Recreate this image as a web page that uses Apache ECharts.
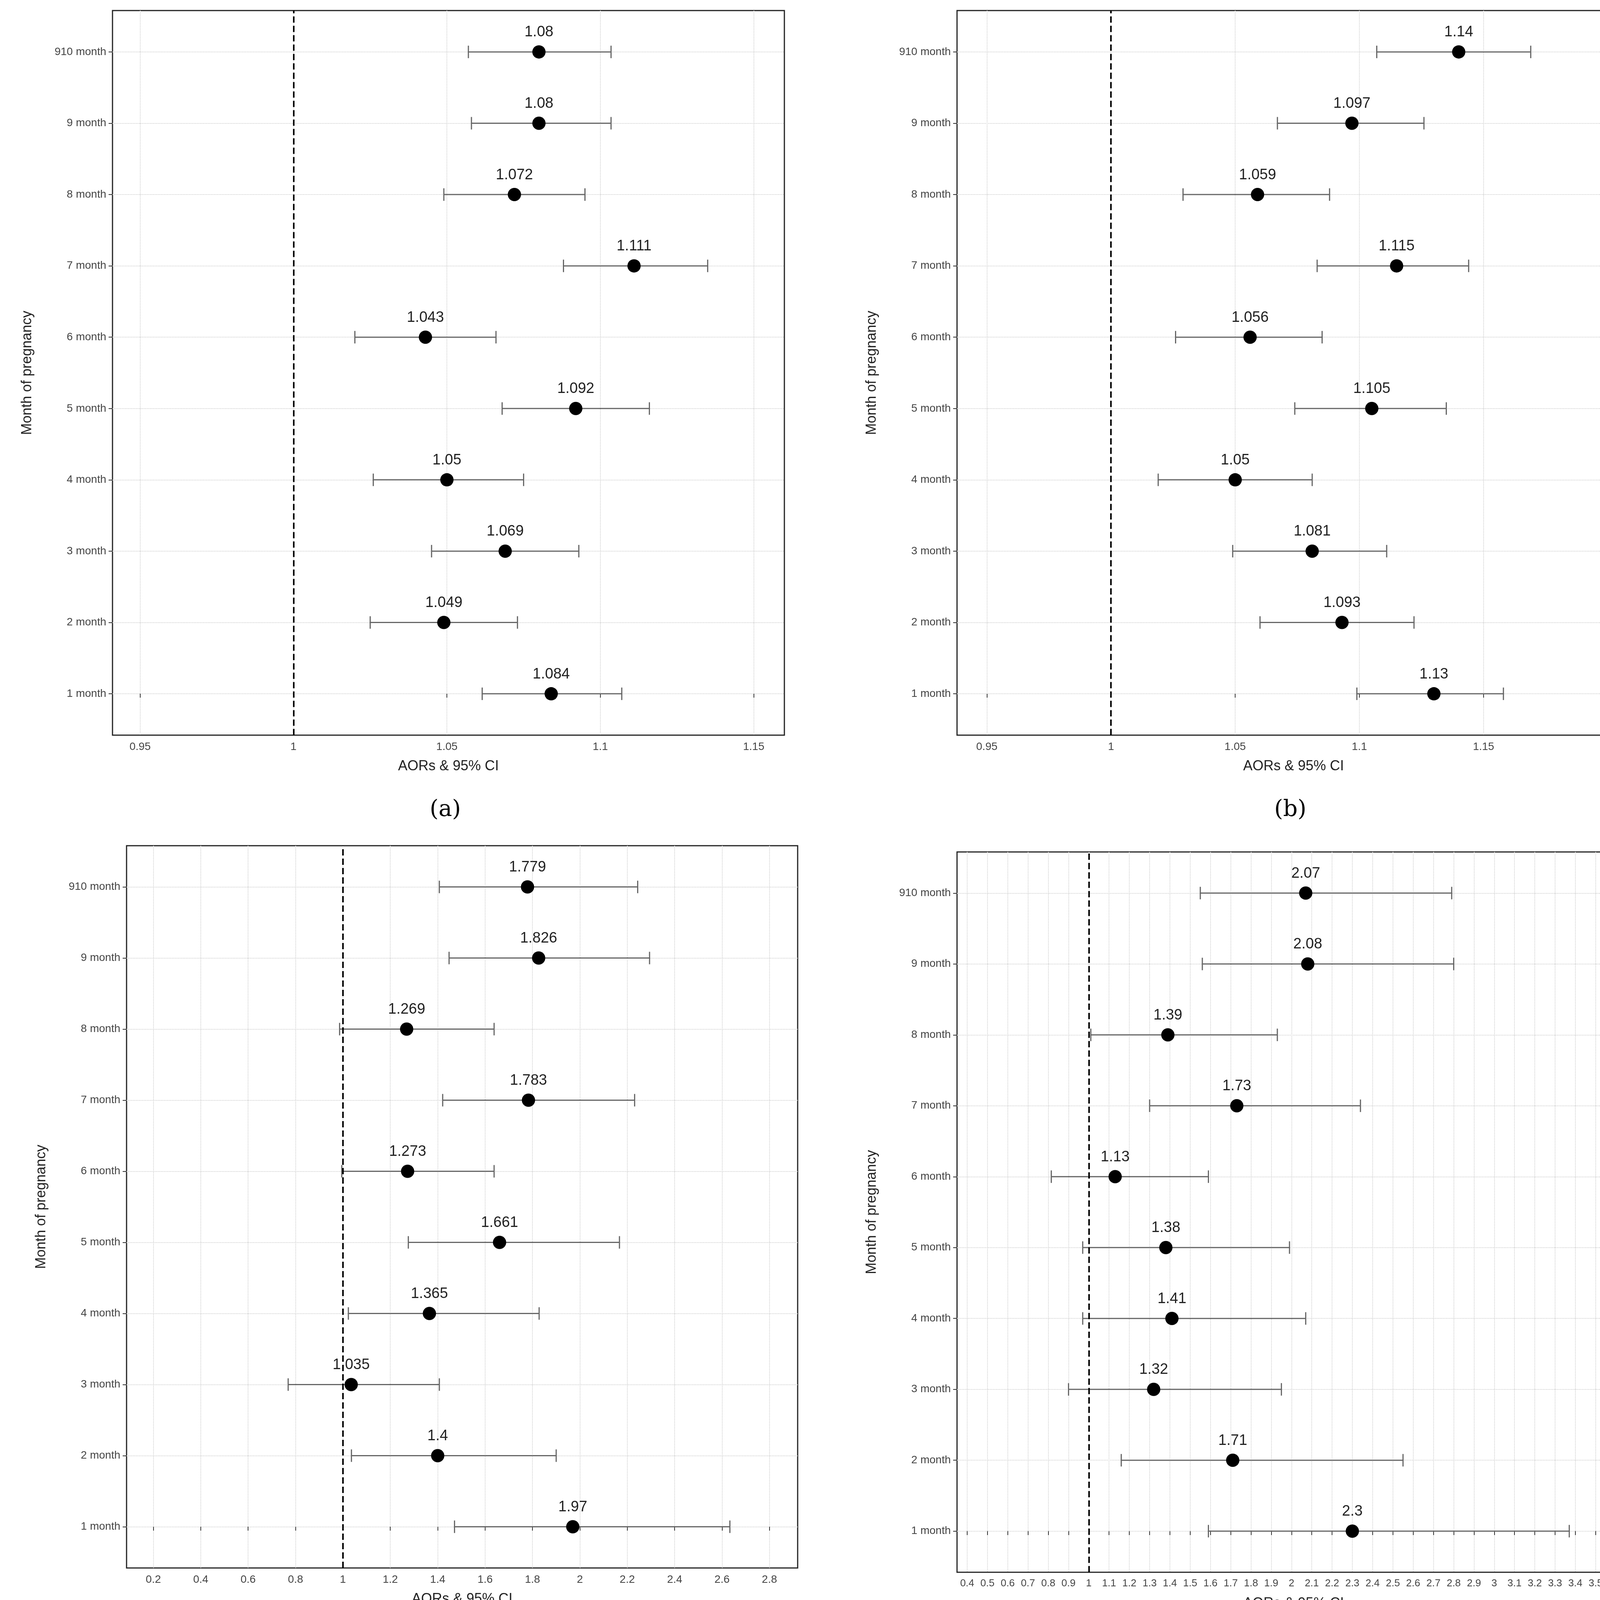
<!DOCTYPE html>
<html><head><meta charset="utf-8">
<script src="https://cdn.jsdelivr.net/npm/echarts@6/dist/echarts.min.js"></script>
<style>html,body{margin:0;background:#fff}#main{width:4198px;height:4303px}</style>
</head><body><div id="main"></div>
<script>
var months = ['1 month','2 month','3 month','4 month','5 month','6 month','7 month','8 month','9 month','910 month'];
// panel a
var estA = [1.084,1.049,1.069,1.05,1.092,1.043,1.111,1.072,1.08,1.08];
var lowA = [1.0615,1.025,1.045,1.026,1.068,1.020,1.088,1.049,1.058,1.057];
var highA = [1.107,1.073,1.093,1.075,1.116,1.066,1.135,1.095,1.1035,1.1035];
// panel b
var estB = [1.13,1.093,1.081,1.05,1.105,1.056,1.115,1.059,1.097,1.14];
var lowB = [1.099,1.060,1.049,1.019,1.074,1.026,1.083,1.029,1.067,1.107];
var highB = [1.158,1.122,1.111,1.081,1.135,1.085,1.144,1.088,1.126,1.169];
// panel c
var estC = [1.97,1.4,1.035,1.365,1.661,1.273,1.783,1.269,1.826,1.779];
var lowC = [1.471,1.036,0.769,1.023,1.276,0.995,1.421,0.986,1.448,1.407];
var highC = [2.633,1.900,1.407,1.828,2.167,1.638,2.231,1.638,2.294,2.244];
// panel d
var estD = [2.3,1.71,1.32,1.41,1.38,1.13,1.73,1.39,2.08,2.07];
var lowD = [1.59,1.16,0.90,0.97,0.97,0.815,1.30,1.01,1.56,1.55];
var highD = [3.37,2.55,1.95,2.07,1.99,1.59,2.34,1.93,2.80,2.79];

var ticksA = [0.95,1,1.05,1.1,1.15];
var ticksB = [0.95,1,1.05,1.1,1.15,1.2];
var ticksC = [0.2,0.4,0.6,0.8,1,1.2,1.4,1.6,1.8,2,2.2,2.4,2.6,2.8];
var ticksD = [];
for (var t = 4; t <= 35; t++) ticksD.push(t / 10);
var rowTicks = [0,1,2,3,4,5,6,7,8,9];

var panels = [
  {est:estA, low:lowA, high:highA, ticks:ticksA, min:0.941, max:1.160, grid:{left:288,top:27,width:1720,height:1855}, letter:'(a)', lx:1100, ly:2045},
  {est:estB, low:lowB, high:highB, ticks:ticksB, min:0.938, max:1.209, grid:{left:2450,top:27,width:1723,height:1855}, letter:'(b)', lx:3262, ly:2045},
  {est:estC, low:lowC, high:highC, ticks:ticksC, min:0.087, max:2.919, grid:{left:324,top:2165,width:1718,height:1849}, letter:'(c)', lx:1100, ly:4195},
  {est:estD, low:lowD, high:highD, ticks:ticksD, min:0.35, max:3.67, grid:{left:2450,top:2181,width:1723,height:1844}, letter:'(d)', lx:3262, ly:4195}
];

var grids = [], xAxes = [], yAxes = [], series = [], graphics = [];
panels.forEach(function (p, i) {
  grids.push(Object.assign({show:true, borderColor:'#222', borderWidth:3}, p.grid));
  xAxes.push({
    gridIndex:i, type:'value', min:p.min, max:p.max,
    name:'AORs & 95% CI', nameLocation:'middle', nameGap:62,
    nameTextStyle:{fontSize:36, color:'#222', fontFamily:'Liberation Sans'},
    axisLine:{show:false},
    axisTick:{show:true, customValues:p.ticks, length:10, lineStyle:{color:'#333', width:2}},
    axisLabel:{customValues:p.ticks, fontSize:i === 3 ? 26 : 28, color:'#444', margin:16, fontFamily:'Liberation Sans',
      formatter:function (v) { return String(+v.toFixed(2)); }},
    splitLine:{show:true, lineStyle:{color:'#d0d0d0', type:'dotted', width:2}}
  });
  yAxes.push({
    gridIndex:i, type:'value', min:-0.58, max:9.58,
    name:'Month of pregnancy', nameLocation:'middle', nameGap:200, nameRotate:90,
    nameTextStyle:{fontSize:36, color:'#222', fontFamily:'Liberation Sans'},
    axisLine:{show:false},
    axisTick:{show:true, customValues:rowTicks, length:10, lineStyle:{color:'#333', width:2}},
    axisLabel:{customValues:rowTicks, fontSize:28, color:'#444', margin:16, fontFamily:'Liberation Sans',
      formatter:function (v) { return months[Math.round(v)]; }},
    splitLine:{show:true, lineStyle:{color:'#d0d0d0', type:'dotted', width:2}}
  });
  var ci = months.map(function (m, k) { return [p.low[k], p.high[k], k]; });
  series.push({
    type:'custom', xAxisIndex:i, yAxisIndex:i, data:ci, z:2,
    renderItem:function (params, api) {
      var a = api.coord([api.value(0), api.value(2)]);
      var b = api.coord([api.value(1), api.value(2)]);
      var h = 16;
      var st = {stroke:'#666', lineWidth:3};
      return {type:'group', children:[
        {type:'line', shape:{x1:a[0], y1:a[1], x2:b[0], y2:b[1]}, style:st},
        {type:'line', shape:{x1:a[0], y1:a[1]-h, x2:a[0], y2:a[1]+h}, style:st},
        {type:'line', shape:{x1:b[0], y1:b[1]-h, x2:b[0], y2:b[1]+h}, style:st}
      ]};
    },
    encode:{x:[0,1], y:2}
  });
  series.push({
    type:'scatter', xAxisIndex:i, yAxisIndex:i, symbolSize:34, z:3,
    itemStyle:{color:'#000', opacity:1},
    data:months.map(function (m, k) { return [p.est[k], k]; }),
    label:{show:true, position:'top', distance:14, fontSize:38, color:'#222', fontFamily:'Liberation Sans',
      formatter:function (d) { return String(d.value[0]); }},
    markLine:{silent:true, symbol:'none', label:{show:false},
      lineStyle:{color:'#000', type:'dashed', width:4},
      data:[{xAxis:1}]}
  });
  graphics.push({type:'text', left:p.lx, top:p.ly,
    style:{text:p.letter, fontSize:58, fill:'#000', fontFamily:'DejaVu Serif'}});
});

var chart = echarts.init(document.getElementById('main'));
chart.setOption({
  animation:false,
  backgroundColor:'#fff',
  grid:grids, xAxis:xAxes, yAxis:yAxes, series:series, graphic:graphics
});
</script>
</body></html>
